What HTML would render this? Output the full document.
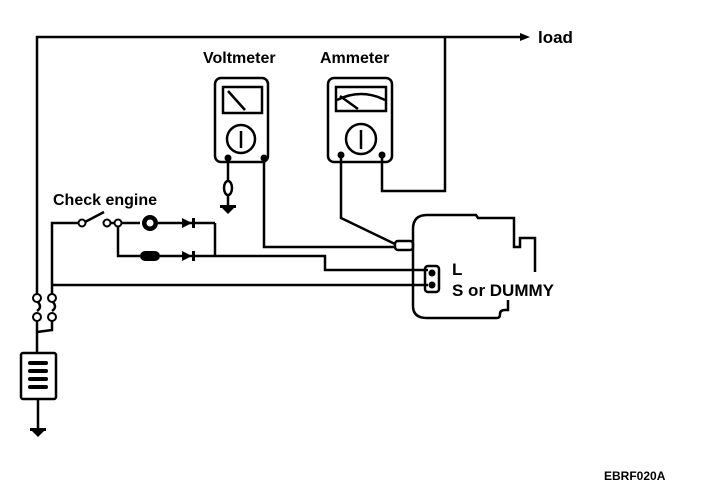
<!DOCTYPE html>
<html><head><style>body{margin:0;background:#fff}svg{display:block}text{font-family:"Liberation Sans",Arial,sans-serif;fill:#000}</style></head><body>
<svg width="704" height="496" viewBox="0 0 704 496" xmlns="http://www.w3.org/2000/svg">
<g fill="none" stroke="#000" stroke-width="2.5">
<polyline points="37,298 37,37 520,37"/>
<polyline points="382,157 382,191 445,191 445,37"/>
<polyline points="52,298 52,223 78,223"/>
<line x1="85" y1="222" x2="104" y2="212"/>
<line x1="111" y1="223" x2="140" y2="223"/>
<line x1="158" y1="223" x2="215" y2="223"/>
<polyline points="118,223 118,256 140,256"/>
<polyline points="160,256 325,256 325,270 428,270"/>
<line x1="215" y1="223" x2="215" y2="256"/>
<line x1="52" y1="285" x2="428" y2="285"/>
<path d="M37,301 q6,6 0,10 M52,301 q6,6 0,10"/>
<polyline points="37,320 37,332"/><polyline points="52,320 52,330 37,332"/>
<line x1="37" y1="332" x2="37" y2="353"/>
<rect x="21" y="353" width="35" height="46" rx="2"/>
<line x1="38" y1="400" x2="38" y2="428"/>
<rect x="215" y="78" width="53" height="84" rx="6"/>
<rect x="223" y="87" width="39" height="26"/>
<circle cx="241" cy="139" r="14"/>
<line x1="241" y1="131" x2="241" y2="148"/>
<line x1="228" y1="91" x2="245" y2="110"/>
<line x1="228" y1="158" x2="228" y2="180"/>
<ellipse cx="228" cy="188" rx="4" ry="7"/>
<line x1="228" y1="195" x2="228" y2="205"/>
<polyline points="264,158 264,247 395,247"/>
<rect x="328" y="78" width="64" height="84" rx="6"/>
<rect x="336" y="87" width="50" height="24"/>
<path d="M337,100 q24,-12 48,0"/>
<line x1="340" y1="96" x2="358" y2="109"/>
<circle cx="361" cy="139" r="15"/>
<line x1="361" y1="130" x2="361" y2="149"/>
<polyline points="341,155 341,218 395,244"/>
<rect x="395" y="241" width="18" height="9" rx="3"/>
<path d="M413,306 L413,229 Q413,215 427,215 L476,215 L478,218 L514,218 L514,247 L520,247 L520,238 L535,238 L535,272"/>
<path d="M413,306 Q413,318 427,318 L497,318 Q500,318 500,314 Q500,310 505,310 L508,310 L508,300"/>
<rect x="425" y="266" width="14" height="26" rx="3"/>
</g>
<polygon points="520,33 530,37 520,41"/>
<g fill="#000">
<circle cx="82" cy="223" r="3.5" fill="#fff" stroke="#000" stroke-width="2"/>
<circle cx="107" cy="223" r="3.5" fill="#fff" stroke="#000" stroke-width="2"/>
<circle cx="118" cy="223" r="3.5" fill="#fff" stroke="#000" stroke-width="2"/>
<circle cx="150" cy="223" r="8"/><circle cx="150" cy="223" r="3.5" fill="#fff"/>
<rect x="140" y="251" width="20" height="10" rx="5"/>
<polygon points="182,218 192,223 182,228"/><rect x="192" y="218" width="3" height="10"/>
<polygon points="182,251 192,256 182,261"/><rect x="192" y="251" width="3" height="10"/>
<circle cx="37" cy="298" r="4" fill="#fff" stroke="#000" stroke-width="2"/>
<circle cx="52" cy="298" r="4" fill="#fff" stroke="#000" stroke-width="2"/>
<circle cx="37" cy="317" r="4" fill="#fff" stroke="#000" stroke-width="2"/>
<circle cx="52" cy="317" r="4" fill="#fff" stroke="#000" stroke-width="2"/>
<rect x="28" y="361" width="20" height="4" rx="2"/><rect x="28" y="369" width="20" height="4" rx="2"/>
<rect x="28" y="377" width="20" height="4" rx="2"/><rect x="28" y="385" width="20" height="4" rx="2"/>
<rect x="30" y="428" width="16" height="3"/><polygon points="32,431 44,431 38,437"/>
<rect x="220" y="205" width="16" height="3"/><polygon points="222,208 234,208 228,214"/>
<circle cx="228" cy="158" r="3.5"/><circle cx="264" cy="158" r="3.5"/>
<circle cx="341" cy="155" r="3.5"/><circle cx="382" cy="155" r="3.5"/>
<circle cx="432" cy="273" r="3.5"/><circle cx="432" cy="285" r="3.5"/>
</g>
<text x="538" y="43" font-size="17" font-weight="bold">load</text>
<text x="203" y="63" font-size="16" font-weight="bold">Voltmeter</text>
<text x="320" y="63" font-size="16" font-weight="bold">Ammeter</text>
<text x="53" y="205" font-size="16" font-weight="bold">Check engine</text>
<text x="452" y="275" font-size="17" font-weight="bold">L</text>
<text x="452" y="296" font-size="17" font-weight="bold">S or DUMMY</text>
<text x="604" y="480" font-size="12" font-weight="bold">EBRF020A</text>
</svg>
</body></html>
